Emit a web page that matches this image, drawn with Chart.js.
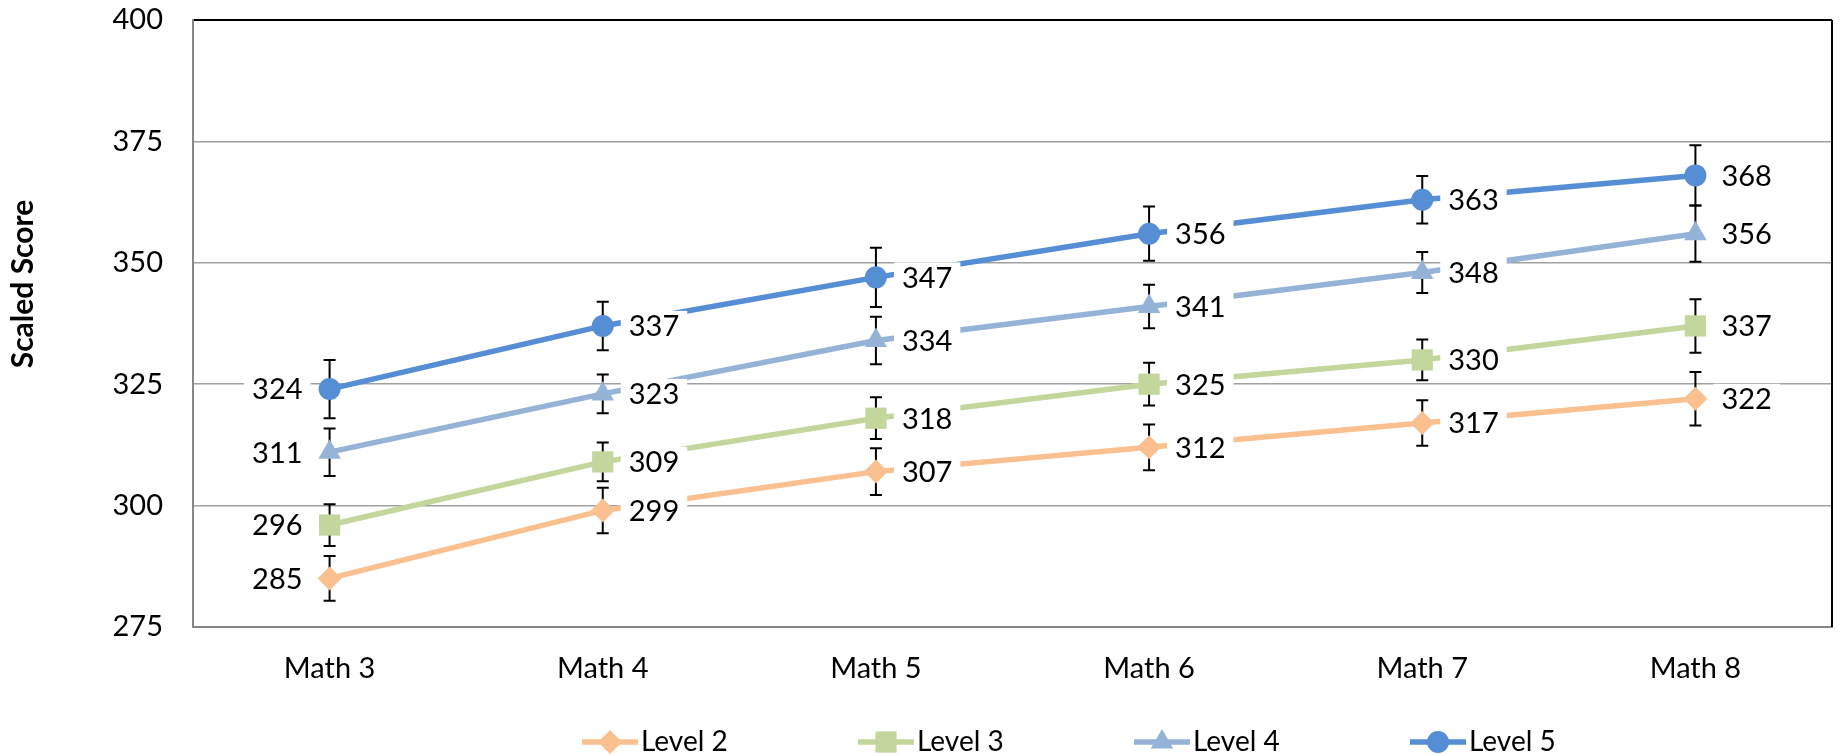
<!DOCTYPE html>
<html>
<head>
<meta charset="utf-8">
<script src="https://cdn.jsdelivr.net/npm/chart.js@4.4.0/dist/chart.umd.min.js"></script>
<style>
html, body { margin: 0; padding: 0; background: #fff; }
</style>
</head>
<body>
<canvas id="scoreChart" width="1847" height="755"></canvas>
<script>
// categories and series
const grades = ["Math 3", "Math 4", "Math 5", "Math 6", "Math 7", "Math 8"];
const levelNames = ["Level 2", "Level 3", "Level 4", "Level 5"];

const level2 = [285, 299, 307, 312, 317, 322];
const level3 = [296, 309, 318, 325, 330, 337];
const level4 = [311, 323, 334, 341, 348, 356];
const level5 = [324, 337, 347, 356, 363, 368];

// +/- error bar half lengths
const level2Err = [4.6, 4.7, 4.8, 4.7, 4.7, 5.5];
const level3Err = [4.3, 4.0, 4.3, 4.4, 4.2, 5.5];
const level4Err = [4.9, 4.0, 4.9, 4.5, 4.2, 5.8];
const level5Err = [6.0, 5.0, 6.1, 5.6, 4.9, 6.2];

const yMin = 275;
const yMax = 400;
const yStep = 25;

const FONT = "Lato, 'Open Sans', sans-serif";

function makeSet(label, data, err, color, style, radius) {
    return {
        label: label,
        data: data,
        errors: err,
        borderColor: color,
        backgroundColor: color,
        borderWidth: 5.5,
        tension: 0,
        pointStyle: style,
        pointRadius: radius,
        pointHoverRadius: radius,
        pointBackgroundColor: color,
        pointBorderColor: color,
        pointBorderWidth: 0
    };
}

const errorBars = {
    id: "errorBars",
    beforeDatasetsDraw(chart) {
        const ctx = chart.ctx;
        const yScale = chart.scales.y;
        const area = chart.chartArea;
        ctx.save();
        // right frame
        ctx.strokeStyle = "#000";
        ctx.lineWidth = 2;
        ctx.beginPath();
        ctx.moveTo(area.right, area.top);
        ctx.lineTo(area.right, area.bottom);
        ctx.stroke();

        ctx.lineWidth = 2;
        chart.data.datasets.forEach((ds, i) => {
            const meta = chart.getDatasetMeta(i);
            meta.data.forEach((pt, j) => {
                const hi = yScale.getPixelForValue(ds.data[j] + ds.errors[j]);
                const lo = yScale.getPixelForValue(ds.data[j] - ds.errors[j]);
                ctx.beginPath();
                ctx.moveTo(pt.x, hi);
                ctx.lineTo(pt.x, lo);
                ctx.moveTo(pt.x - 6, hi);
                ctx.lineTo(pt.x + 6, hi);
                ctx.moveTo(pt.x - 6, lo);
                ctx.lineTo(pt.x + 6, lo);
                ctx.stroke();
            });
        });
        ctx.restore();
    }
};

const valueLabels = {
    id: "valueLabels",
    afterDatasetsDraw(chart) {
        const ctx = chart.ctx;
        ctx.save();
        ctx.font = "29px " + FONT;
        ctx.textBaseline = "middle";
        chart.data.datasets.forEach((ds, i) => {
            const meta = chart.getDatasetMeta(i);
            meta.data.forEach((pt, j) => {
                const txt = String(ds.data[j]);
                const w = ctx.measureText(txt).width;
                let tx;
                if (j === 0) {
                    tx = pt.x - 27 - w;
                } else {
                    tx = pt.x + 26;
                }
                ctx.fillStyle = "#fff";
                ctx.fillRect(tx - 8, pt.y - 15, w + 16, 30);
                ctx.fillStyle = "#000";
                ctx.textAlign = "left";
                ctx.fillText(txt, tx, pt.y + 1);
            });
        });
        ctx.restore();
    }
};

const sideParts = {
    id: "sideParts",
    afterDraw(chart) {
        const ctx = chart.ctx;
        ctx.save();
        // y axis title
        ctx.translate(23, 284);
        ctx.rotate(-Math.PI / 2);
        ctx.font = "bold 30px " + FONT;
        ctx.fillStyle = "#000";
        ctx.textAlign = "center";
        ctx.textBaseline = "middle";
        ctx.fillText("Scaled Score", 0, 0);
        ctx.restore();

        // legend
        ctx.save();
        ctx.font = "28px " + FONT;
        ctx.textBaseline = "middle";
        ctx.textAlign = "left";
        chart.data.datasets.forEach((ds, i) => {
            const x0 = 582 + i * 276;
            const y0 = 742;
            ctx.strokeStyle = ds.borderColor;
            ctx.lineWidth = 5.5;
            ctx.beginPath();
            ctx.moveTo(x0, y0);
            ctx.lineTo(x0 + 56, y0);
            ctx.stroke();
            ctx.fillStyle = ds.pointBackgroundColor;
            Chart.helpers.drawPoint(ctx, {
                pointStyle: ds.pointStyle,
                radius: ds.pointRadius,
                rotation: 0,
                borderWidth: 0
            }, x0 + 28, y0);
            ctx.fillStyle = "#000";
            ctx.fillText(ds.label, x0 + 59, y0);
        });
        ctx.restore();
    }
};

function build() {
    const ctx = document.getElementById("scoreChart");
    new Chart(ctx, {
        type: "line",
        data: {
            labels: grades,
            datasets: [
                makeSet(levelNames[0], level2, level2Err, "#FAC090", "rectRot", 12),
                makeSet(levelNames[1], level3, level3Err, "#C3D69B", "rect", 15),
                makeSet(levelNames[2], level4, level4Err, "#95B3D7", "triangle", 13),
                makeSet(levelNames[3], level5, level5Err, "#558ED5", "circle", 11)
            ]
        },
        options: {
            responsive: false,
            animation: false,
            events: [],
            layout: {
                padding: { top: 20, right: 2, bottom: 0, left: 0 }
            },
            plugins: {
                legend: { display: false },
                tooltip: { enabled: false }
            },
            scales: {
                x: {
                    offset: true,
                    afterFit(scale) {
                        scale.height = 128;
                        scale.paddingLeft = 0;
                        scale.paddingRight = 0;
                    },
                    grid: { display: false, drawTicks: false },
                    border: { color: "#868686", width: 2 },
                    ticks: {
                        padding: 24,
                        color: "#000",
                        font: { family: FONT, size: 29 }
                    }
                },
                y: {
                    min: yMin,
                    max: yMax,
                    afterFit(scale) {
                        scale.width = 193;
                        scale.paddingTop = 0;
                        scale.paddingBottom = 0;
                    },
                    grid: {
                        drawTicks: false,
                        color: (c) => c.tick && c.tick.value === yMax ? "#000" : "#A0A0A0",
                        lineWidth: (c) => c.tick && c.tick.value === yMax ? 2 : 1.5
                    },
                    border: { color: "#868686", width: 2 },
                    ticks: {
                        stepSize: yStep,
                        padding: 30,
                        color: "#000",
                        font: { family: FONT, size: 29 }
                    }
                }
            }
        },
        plugins: [errorBars, valueLabels, sideParts]
    });
}

if (document.fonts && document.fonts.load) {
    Promise.all([
        document.fonts.load("29px Lato"),
        document.fonts.load("bold 30px Lato")
    ]).then(build, build);
} else {
    build();
}
</script>
</body>
</html>
